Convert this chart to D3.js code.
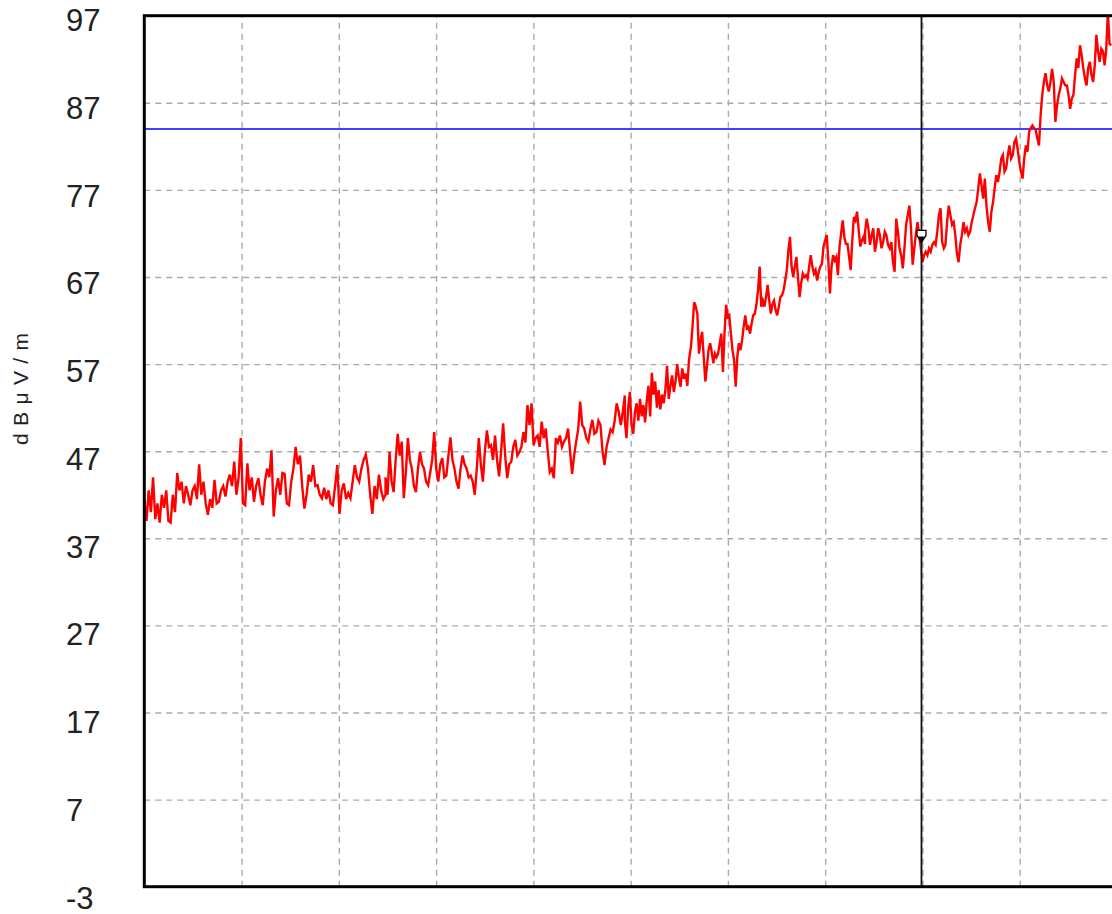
<!DOCTYPE html>
<html><head><meta charset="utf-8">
<script src="https://cdn.jsdelivr.net/npm/d3@7"></script>
<style>html,body{margin:0;padding:0;background:#fff;} svg{display:block;}</style>
</head><body><svg id="c" width="1112" height="914"></svg>
<script>
// ---- data ----
const yTicks = [-3, 7, 17, 27, 37, 47, 57, 67, 77, 87, 97];
const xGrid = [100, 200, 300, 400, 500, 600, 700, 800, 900];
const freqDomain = [0, 1000];
const limitLevel = 84;
const cursorFreq = 799;
const markerLevel = 72;
const yTitle = "dBμV/m";
// sweep sections (start, stop) and levels in dBμV/m
const segBounds = [[0, 248], [248, 494], [494, 560], [562, 741], [741, 994]];
const segA = [41.5, 39.0, 42.5, 40.0, 44.0, 39.2, 41.0, 38.8, 42.0, 40.5, 42.5, 39.0, 38.8, 42.0, 40.0, 44.5, 42.5, 43.5, 41.0, 43.0, 42.0, 40.8, 42.5, 43.0, 41.5, 45.5, 42.0, 43.5, 41.0, 39.7, 41.5, 40.5, 43.7, 41.0, 41.2, 42.5, 43.0, 41.8, 43.5, 44.3, 43.0, 45.8, 42.0, 44.0, 48.5, 41.0, 40.8, 45.6, 42.5, 44.0, 41.2, 43.0, 43.9, 42.0, 40.8, 43.5, 45.0, 44.0, 47.1, 39.5, 42.5, 43.9, 42.0, 44.5, 44.4, 41.0, 40.8, 43.5, 45.0, 47.5, 45.5, 46.5, 43.0, 40.4, 42.0, 44.3, 43.5, 45.4, 43.0, 43.1, 42.0, 41.6, 42.8, 41.5, 42.5, 41.0, 40.8, 43.0, 45.4, 39.8, 42.5, 43.3, 41.5, 42.2, 41.6, 43.5, 45.4, 44.0, 43.5, 45.0, 46.0, 46.6, 45.0, 42.0, 39.8, 43.0, 41.5, 44.3, 42.5, 41.5, 42.0];
const segB = [44.0, 42.0, 46.9, 43.5, 42.3, 46.0, 49.0, 46.5, 48.1, 41.6, 44.5, 48.5, 46.0, 45.0, 43.0, 42.3, 45.0, 46.9, 45.5, 45.0, 43.5, 43.1, 44.5, 46.0, 49.2, 45.0, 43.5, 45.5, 46.2, 44.0, 44.2, 46.5, 48.6, 46.0, 45.0, 43.5, 42.7, 45.0, 46.5, 45.5, 45.0, 44.0, 44.2, 43.5, 42.0, 45.0, 48.5, 45.5, 43.5, 47.0, 49.4, 47.5, 47.7, 46.0, 48.8, 46.0, 44.1, 47.0, 50.2, 46.5, 43.9, 45.5, 45.8, 47.5, 48.3, 46.5, 46.9, 47.5, 49.2, 48.0, 52.3, 50.0, 52.5, 47.7, 48.5, 48.8, 47.5, 50.4, 48.5, 49.6, 47.0, 44.6, 45.0, 43.9, 48.5, 48.0, 48.8, 47.5, 48.1, 48.5, 49.6, 47.0, 44.4, 46.5, 48.1, 49.5, 52.7, 50.0, 49.6, 48.5, 48.1, 49.5, 50.6, 49.0, 49.2, 50.5, 50.0, 47.0, 45.4, 47.5, 48.5, 49.5, 49.2, 50.5, 52.5, 51.5, 50.0, 51.5, 53.4];
const segC = [50.5, 48.5, 52.0, 53.8, 50.0, 49.0, 51.5, 52.5, 50.5, 53.0, 51.0, 52.3, 50.3, 52.8, 54.5, 51.0, 56.0, 53.5, 55.0, 52.0, 54.0, 51.8, 53.5, 52.5, 54.0, 56.8, 53.0, 54.5, 55.7, 53.8, 55.0, 57.0, 55.5, 54.4, 56.5, 55.3, 55.9, 54.5, 57.5];
const segD = [59.0, 61.3, 64.1, 63.6, 62.8, 58.2, 59.7, 60.7, 57.8, 55.0, 56.7, 58.6, 59.4, 58.4, 57.1, 58.2, 57.8, 58.2, 59.4, 60.5, 56.1, 60.5, 63.8, 62.4, 62.6, 60.5, 58.6, 57.5, 54.4, 57.8, 59.4, 58.6, 59.7, 61.3, 62.6, 61.1, 61.3, 60.5, 61.7, 62.6, 62.8, 63.9, 65.5, 68.2, 63.6, 64.3, 63.6, 64.7, 66.1, 64.3, 62.8, 63.9, 64.3, 63.2, 62.6, 63.6, 64.7, 64.9, 65.5, 66.6, 67.8, 70.1, 71.6, 68.2, 67.0, 68.2, 69.3, 67.0, 64.7, 66.3, 67.4, 67.0, 67.2, 66.8, 68.2, 69.5, 68.2, 67.4, 67.8, 66.6, 67.6, 68.2, 68.5, 70.5, 71.2, 71.8, 68.9, 65.1, 68.2, 69.5, 68.9, 69.3, 67.2, 70.5, 72.0, 73.5, 71.6, 70.8, 70.8, 69.3, 67.8, 71.2, 73.9, 73.5, 74.5, 72.4, 70.5, 71.2, 71.6, 70.8];
const segE = [72.2, 73.7, 72.6, 70.7, 71.8, 72.6, 69.9, 71.0, 72.6, 71.8, 70.3, 71.0, 72.2, 71.8, 70.7, 70.3, 71.0, 68.7, 67.6, 73.7, 72.2, 70.3, 69.5, 68.0, 70.3, 73.0, 74.1, 75.2, 72.6, 68.4, 70.3, 72.0, 73.3, 71.8, 70.3, 68.7, 69.5, 69.9, 69.5, 70.3, 69.9, 70.7, 71.0, 70.7, 72.2, 74.1, 74.9, 71.0, 70.3, 70.7, 73.3, 75.2, 74.1, 73.0, 73.3, 71.8, 69.7, 68.7, 70.7, 71.8, 73.3, 72.2, 72.6, 71.8, 72.2, 73.3, 74.1, 74.9, 75.6, 77.2, 78.9, 77.5, 76.0, 78.3, 75.2, 73.3, 72.2, 74.5, 75.6, 77.2, 78.7, 77.9, 79.1, 80.6, 81.0, 79.1, 79.5, 81.0, 82.1, 80.6, 81.0, 82.5, 82.9, 81.7, 80.2, 79.1, 78.3, 80.6, 82.1, 81.4, 83.7, 84.1, 84.4, 84.1, 83.9, 82.9, 82.1, 85.6, 87.9, 89.4, 90.4, 89.0, 88.3, 89.4, 90.9, 89.4, 84.8, 86.7, 87.9, 88.6, 89.8, 89.4, 89.0, 89.0, 87.9, 86.3, 87.5, 87.9, 90.2, 92.1, 91.0, 93.6, 92.5, 91.0, 89.8, 89.0, 91.0, 91.7, 90.2, 89.4, 91.3, 94.8, 92.9, 91.7, 93.2, 92.9, 91.3, 93.2, 97.5, 93.8, 93.6];
const segLevels = [segA, segB, segC, segD, segE];

// ---- build trace ----
const trace = [];
segLevels.forEach((lv, i) => {
  const [f0, f1] = segBounds[i];
  lv.forEach((v, j) => trace.push({ f: f0 + (f1 - f0) * j / (lv.length - 1), v }));
});

// ---- layout ----
const L = 144.3, R = 1117, T = 15.7, B = 886.7;
const svg = d3.select("#c");
const x = d3.scaleLinear().domain(freqDomain).range([L, R]);
const y = d3.scaleLinear().domain([yTicks[0], yTicks[yTicks.length - 1]]).range([B, T]);
const yLab = d3.scaleLinear().domain([yTicks[0], yTicks[yTicks.length - 1]]).range([897.5, 20]);

svg.append("defs").append("clipPath").attr("id", "clip")
  .append("rect").attr("x", L).attr("y", T).attr("width", R - L).attr("height", B - T);

// grid
const gridStyle = g => g.selectAll("line").attr("stroke", "#aaaaaa").attr("stroke-width", 1.4).attr("stroke-dasharray", "6,5");
svg.append("g").attr("transform", `translate(${L},0)`)
  .call(d3.axisLeft(y).tickValues(yTicks.slice(1, -1)).tickSize(-(R - L)).tickFormat(""))
  .call(g => g.select(".domain").remove()).call(gridStyle);
svg.append("g").attr("transform", `translate(0,${B})`)
  .call(d3.axisBottom(x).tickValues(xGrid).tickSize(-(B - T)).tickFormat(""))
  .call(g => g.select(".domain").remove()).call(gridStyle);

// labels
svg.append("g").selectAll("text").data(yTicks).join("text")
  .attr("x", 66).attr("y", d => yLab(d)).attr("dy", "0.36em")
  .attr("font-family", "'Liberation Sans', Arial, sans-serif").attr("font-size", 31)
  .attr("fill", "#222").text(d => d);

svg.append("text").attr("transform", "translate(28,389) rotate(-90)")
  .attr("text-anchor", "middle")
  .attr("font-family", "'Liberation Sans', Arial, sans-serif").attr("font-size", 21)
  .attr("fill", "#222").attr("textLength", 112).attr("lengthAdjust", "spacing")
  .text(yTitle);

const plot = svg.append("g").attr("clip-path", "url(#clip)");
// limit line
plot.append("line").attr("x1", L).attr("x2", R).attr("y1", y(limitLevel)).attr("y2", y(limitLevel))
  .attr("stroke", "#0000ff").attr("stroke-width", 1.6);
// trace
plot.append("path").datum(trace)
  .attr("d", d3.line().x(d => x(d.f)).y(d => y(d.v)))
  .attr("fill", "none").attr("stroke", "#ff0000").attr("stroke-width", 2.4).attr("stroke-linejoin", "miter");
// cursor
plot.append("line").attr("x1", x(cursorFreq)).attr("x2", x(cursorFreq)).attr("y1", T).attr("y2", B)
  .attr("stroke", "#111").attr("stroke-width", 1.8);
// marker
const mx = x(cursorFreq), my = y(markerLevel);
svg.append("path").attr("d", `M${mx - 4.5},${my - 3}H${mx + 4.5}V${my + 2}L${mx},${my + 9}L${mx - 4.5},${my + 2}Z`)
  .attr("fill", "#fff").attr("stroke", "#000").attr("stroke-width", 1.3);
svg.append("path").attr("d", `M${mx - 3},${my + 3}H${mx + 3}L${mx},${my + 9}Z`).attr("fill", "#000");

// frame
svg.append("rect").attr("x", L).attr("y", T).attr("width", R - L).attr("height", B - T)
  .attr("fill", "none").attr("stroke", "#000").attr("stroke-width", 3);
</script></body></html>
